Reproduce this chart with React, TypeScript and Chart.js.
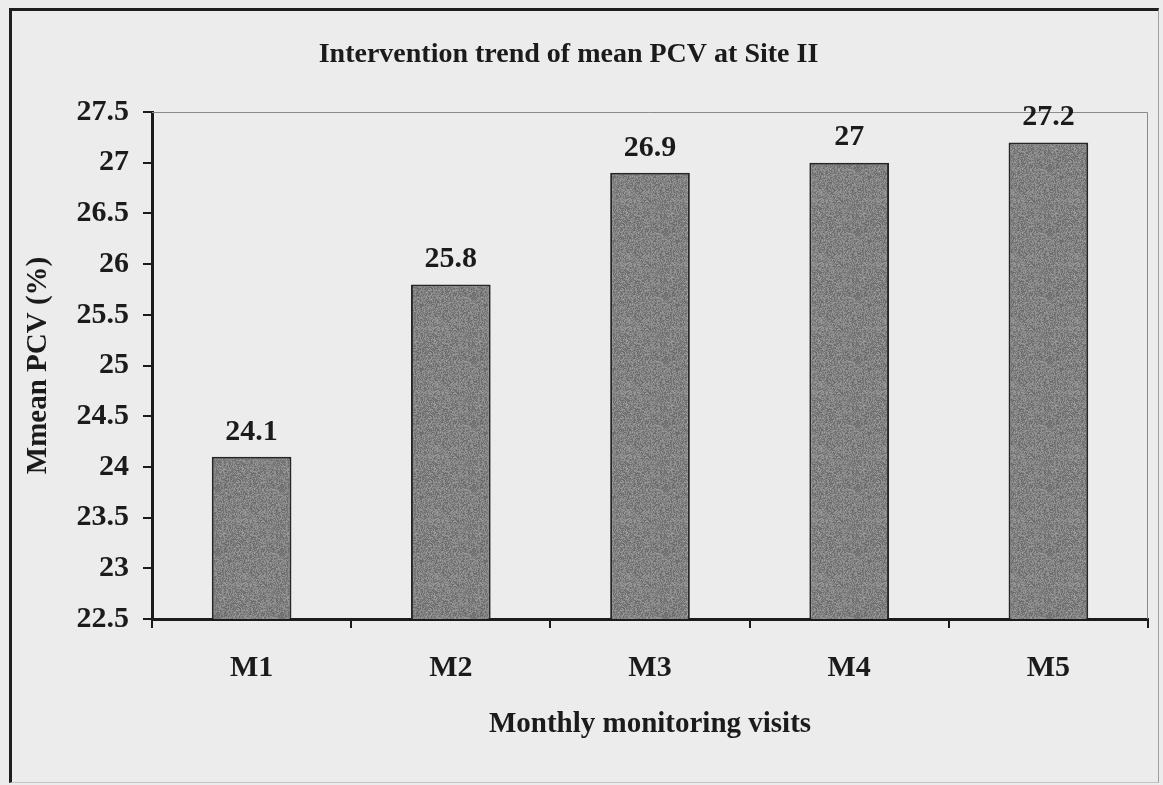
import React, { useEffect, useRef } from "react";
import { Chart, registerables } from "chart.js";

Chart.register(...registerables);

// ---- Data ----
const categories = ["M1", "M2", "M3", "M4", "M5"];
const meanPcv = [24.1, 25.8, 26.9, 27, 27.2];
const yMin = 22.5;
const yMax = 27.5;
const yStep = 0.5;
const chartTitle = "Intervention trend of mean PCV at Site II";
const xAxisTitle = "Monthly monitoring visits";
const yAxisTitle = "Mmean PCV (%)";

// ---- Style ----
const FONT = "'Liberation Serif', 'Times New Roman', serif";
const INK = "#1b1b1b";
const PAGE_BG = "#ececec";

function makeGrainPattern(): CanvasPattern | string {
  const size = 64;
  const c = document.createElement("canvas");
  c.width = size;
  c.height = size;
  const ctx = c.getContext("2d");
  if (!ctx) return "#858585";
  const img = ctx.createImageData(size, size);
  let s = 12345;
  for (let i = 0; i < size * size; i++) {
    s = (s * 1103515245 + 12345) & 0x7fffffff;
    const v = 130 + ((s >> 8) % 52) - 26;
    img.data[i * 4] = v;
    img.data[i * 4 + 1] = v;
    img.data[i * 4 + 2] = v;
    img.data[i * 4 + 3] = 255;
  }
  ctx.putImageData(img, 0, 0);
  return ctx.createPattern(c, "repeat") || "#858585";
}

const plotFramePlugin = {
  id: "plotFrame",
  beforeDatasetsDraw(chart: any) {
    const { ctx, chartArea: a } = chart;
    ctx.save();
    ctx.strokeStyle = "#8a8a8a";
    ctx.lineWidth = 1;
    ctx.beginPath();
    ctx.moveTo(a.left, a.top + 0.5);
    ctx.lineTo(a.right - 0.5, a.top + 0.5);
    ctx.lineTo(a.right - 0.5, a.bottom);
    ctx.stroke();
    ctx.restore();
  },
};

const valueLabelPlugin = {
  id: "valueLabels",
  afterDatasetsDraw(chart: any) {
    const { ctx } = chart;
    const meta = chart.getDatasetMeta(0);
    const values = chart.data.datasets[0].data as number[];
    ctx.save();
    ctx.font = `bold 30px ${FONT}`;
    ctx.fillStyle = INK;
    ctx.textAlign = "center";
    ctx.textBaseline = "middle";
    meta.data.forEach((bar: any, i: number) => {
      ctx.fillText(String(values[i]), bar.x, bar.y - 25);
    });
    ctx.restore();
  },
};

const titlePlugin = {
  id: "leftShiftedTitle",
  afterDraw(chart: any) {
    const { ctx } = chart;
    ctx.save();
    ctx.font = `bold 28px ${FONT}`;
    ctx.fillStyle = INK;
    ctx.textAlign = "center";
    ctx.textBaseline = "middle";
    ctx.fillText(chartTitle, chart.width / 2 - 13, 55);
    ctx.restore();
  },
};

export default function App() {
  const ref = useRef<HTMLCanvasElement>(null);

  useEffect(() => {
    const canvas = ref.current;
    if (!canvas) return;
    const chart = new Chart(canvas, {
      type: "bar",
      data: {
        labels: categories,
        datasets: [
          {
            data: meanPcv,
            backgroundColor: makeGrainPattern() as any,
            borderColor: "#262626",
            borderWidth: 2,
            barPercentage: 0.4,
            categoryPercentage: 1,
          },
        ],
      },
      options: {
        responsive: false,
        animation: false,
        devicePixelRatio: 1,
        layout: { padding: { left: 0, right: 15, top: 112, bottom: 0 } },
        plugins: {
          legend: { display: false },
          tooltip: { enabled: false },
          title: { display: false },
        },
        scales: {
          x: {
            grid: {
              display: true,
              offset: true,
              drawOnChartArea: false,
              drawTicks: true,
              tickLength: 9,
              color: INK,
              lineWidth: 2,
            },
            border: { display: true, color: INK, width: 3 },
            ticks: {
              color: INK,
              font: { family: FONT, size: 30, weight: "bold" },
              padding: 22,
            },
            title: {
              display: true,
              text: xAxisTitle,
              color: INK,
              font: { family: FONT, size: 29, weight: "bold" },
              padding: { top: 0, bottom: 43 },
            },
            afterFit: (s: any) => {
              s.height = 166;
            },
          },
          y: {
            min: yMin,
            max: yMax,
            ticks: {
              stepSize: yStep,
              callback: (v: any) => String(Number(v)),
              color: INK,
              font: { family: FONT, size: 30, weight: "bold" },
              padding: 14,
            },
            grid: {
              drawOnChartArea: false,
              drawTicks: true,
              tickLength: 9,
              color: INK,
              lineWidth: 2,
            },
            border: { display: true, color: INK, width: 3 },
            title: {
              display: true,
              text: yAxisTitle,
              color: INK,
              font: { family: FONT, size: 29, weight: "bold" },
              padding: { top: 21, bottom: 0 },
            },
            afterFit: (s: any) => {
              s.width = 152;
            },
          },
        },
      },
      plugins: [plotFramePlugin, valueLabelPlugin, titlePlugin],
    });
    return () => chart.destroy();
  }, []);

  return (
    <div
      style={{
        position: "fixed",
        left: 0,
        top: 0,
        width: 1163,
        height: 785,
        background: PAGE_BG,
        overflow: "hidden",
      }}
    >
      <div
        style={{
          position: "absolute",
          left: 9,
          top: 8,
          width: 1146,
          height: 771,
          borderTop: "3px solid #1e1e1e",
          borderLeft: "3px solid #1e1e1e",
          borderRight: "1px solid #a0a0a0",
          borderBottom: "1px solid #c4c4c4",
        }}
      />
      <canvas
        ref={ref}
        width={1163}
        height={785}
        style={{ position: "absolute", left: 0, top: 0, width: 1163, height: 785 }}
      />
    </div>
  );
}
